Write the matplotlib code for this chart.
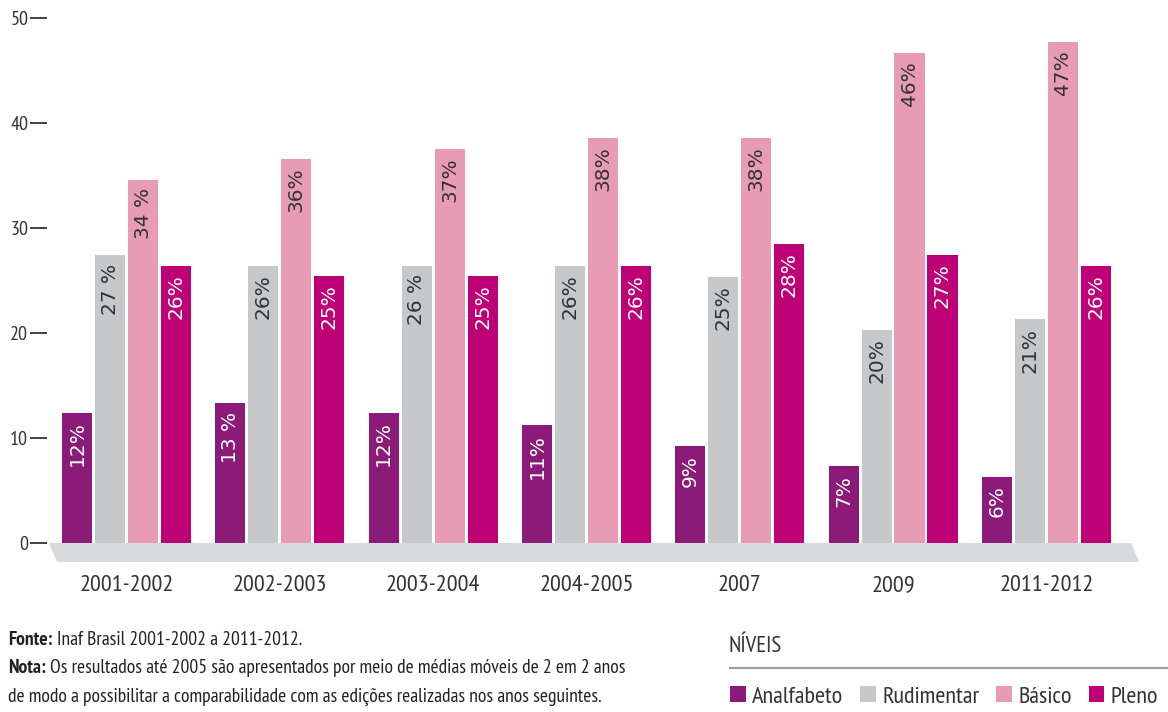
import matplotlib.pyplot as plt
import numpy as np
from matplotlib.patches import Polygon

# Datos
anos = ["2001-2002", "2002-2003", "2003-2004", "2004-2005", "2007", "2009", "2011-2012"]
niveis = ["Analfabeto", "Rudimentar", "Básico", "Pleno"]

analfabeto = [12.4, 13.3, 12.4, 11.2, 9.2, 7.3, 6.3]
rudimentar = [27.4, 26.4, 26.4, 26.4, 25.3, 20.3, 21.3]
basico = [34.6, 36.6, 37.5, 38.6, 38.6, 46.7, 47.7]
pleno = [26.4, 25.4, 25.4, 26.4, 28.5, 27.4, 26.4]

# rótulos impressos nas barras
rot_analfabeto = ["12%", "13 %", "12%", "11%", "9%", "7%", "6%"]
rot_rudimentar = ["27 %", "26%", "26 %", "26%", "25%", "20%", "21%"]
rot_basico = ["34 %", "36%", "37%", "38%", "38%", "46%", "47%"]
rot_pleno = ["26%", "25%", "25%", "26%", "28%", "27%", "26%"]

cores = ["#8b1a78", "#c7c8ca", "#e89bb5", "#be0077"]
cores_texto = ["white", "#333333", "#333333", "white"]

narrow = ["PT Sans Narrow", "Roboto", "DejaVu Sans"]

fig = plt.figure(figsize=(11.68, 7.12), dpi=100)
ax = fig.add_axes([47 / 1168, 1 - 564 / 712, 1093 / 1168, 564 / 712])

x = np.arange(len(anos))
passo = 0.215
largura = 0.196
series = [analfabeto, rudimentar, basico, pleno]
rotulos = [rot_analfabeto, rot_rudimentar, rot_basico, rot_pleno]

# "chão" cinza sob as barras
chao = Polygon([(-0.506, 0), (6.553, 0), (6.605, -1.8), (-0.454, -1.8)],
               closed=True, facecolor="#d9dadc", edgecolor="none", zorder=1)
ax.add_patch(chao)

barras = []
for i, (vals, rots) in enumerate(zip(series, rotulos)):
    pos = x + (i - 1.5) * passo
    b = ax.bar(pos, vals, width=largura, color=cores[i], label=niveis[i], zorder=2)
    barras.append(b)
    for p, v, r in zip(pos, vals, rots):
        ax.text(p, v - 0.8, r, rotation=90, ha="center", va="top",
                color=cores_texto[i], fontsize=14.5, family="DejaVu Sans", zorder=3)

ax.set_xlim(-0.519, 6.611)
ax.set_ylim(-2, 51.7)
for s in ax.spines.values():
    s.set_visible(False)

ax.set_yticks([0, 10, 20, 30, 40, 50])
ax.tick_params(axis="y", length=12, width=1.3, color="#333333", pad=1.5,
               labelsize=14.5, labelcolor="#333333")
for t in ax.get_yticklabels():
    t.set_family(narrow)

ax.set_xticks(x)
ax.set_xticklabels(anos)
ax.tick_params(axis="x", length=0, pad=8, labelsize=17.5, labelcolor="#333333")
for t in ax.get_xticklabels():
    t.set_family(narrow)


# Fonte e nota: prefixo em negrito seguido do texto normal
def linha(y, prefixo, resto, tam=14):
    kw = dict(fontsize=tam, family=narrow, color="#222222", va="center")
    if prefixo:
        t = fig.text(8 / 1168, 1 - y / 712, prefixo, weight="bold", **kw)
        ax.annotate(resto, xy=(1, 0.5), xycoords=t, xytext=(3, 0),
                    textcoords="offset points", annotation_clip=False, **kw)
    else:
        fig.text(8 / 1168, 1 - y / 712, resto, **kw)


linha(640, "Fonte:", "Inaf Brasil 2001-2002 a 2011-2012.")
linha(668, "Nota:", "Os resultados até 2005 são apresentados por meio de médias móveis de 2 em 2 anos")
linha(697, "", "de modo a possibilitar a comparabilidade com as edições realizadas nos anos seguintes.")

# Legenda
fig.text(729 / 1168, 1 - 647 / 712, "NÍVEIS", fontsize=16.5, family=narrow,
         color="#333333", va="center")
fig.add_artist(plt.Line2D([730 / 1168, 1.0], [1 - 668 / 712, 1 - 668 / 712],
                          color="#9a9a9a", lw=1.5))
leg = fig.legend(handles=barras, labels=niveis, ncol=4, loc="center left",
                 bbox_to_anchor=(730 / 1168, 1 - 697 / 712), frameon=False,
                 handlelength=0.65, handleheight=0.65, handletextpad=0.25,
                 columnspacing=0.7, borderaxespad=0, borderpad=0,
                 prop={"family": narrow, "size": 17.5})
for t in leg.get_texts():
    t.set_color("#333333")

plt.savefig("out.png", dpi=100)
